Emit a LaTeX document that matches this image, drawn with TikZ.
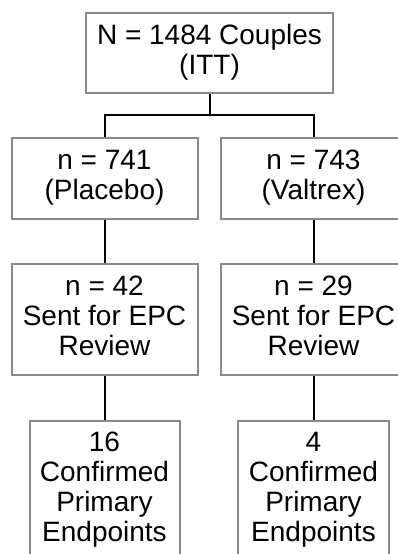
\documentclass[tikz,border=0pt]{standalone}
\usepackage{fontspec}
\setmainfont{Liberation Sans}
\begin{document}
\begin{tikzpicture}[x=1pt,y=1pt,
  box/.style={draw=boxgray, line width=2pt, rectangle, inner sep=0pt,
    align=center, font=\fontsize{28}{30}\selectfont, anchor=north},
  conn/.style={draw=black, line width=2pt}]
\definecolor{boxgray}{HTML}{8A8A8A}
\useasboundingbox (0,0) rectangle (398,-554);
\clip (0,0) rectangle (398,-554);
% nodes
\node[box, minimum width=247pt, minimum height=80pt] (top) at (209.5,-12)
  {\strut N = 1484 Couples\\\strut(ITT)};
\node[box, minimum width=186pt, minimum height=81pt] (l2) at (104.5,-137)
  {\strut n = 741\\\strut(Placebo)};
\node[box, minimum width=186pt, minimum height=81pt] (r2) at (313.5,-137)
  {\strut n = 743\\\strut(Valtrex)};
\node[box, minimum width=186pt, minimum height=111pt] (l3) at (104.5,-263)
  {\strut n = 42\\\strut Sent for EPC\\\strut Review};
\node[box, minimum width=186pt, minimum height=111pt] (r3) at (313.5,-263)
  {\strut n = 29\\\strut Sent for EPC\\\strut Review};
\node[box, minimum width=150pt, minimum height=139pt] (l4) at (104.5,-420)
  {\strut 16\\\strut Confirmed\\\strut Primary\\\strut Endpoints};
\node[box, minimum width=151pt, minimum height=139pt] (r4) at (313.5,-420)
  {\strut 4\\\strut Confirmed\\\strut Primary\\\strut Endpoints};
% connectors
\coordinate (split) at (209.5,-114.5);
\draw[conn] (top.south) -- (split);
\draw[conn] (split) -| (l2.north);
\draw[conn] (split) -| (r2.north);
\draw[conn] (l2.south) -- (l3.north);
\draw[conn] (r2.south) -- (r3.north);
\draw[conn] (l3.south) -- (l4.north);
\draw[conn] (r3.south) -- (r4.north);
\end{tikzpicture}
\end{document}
